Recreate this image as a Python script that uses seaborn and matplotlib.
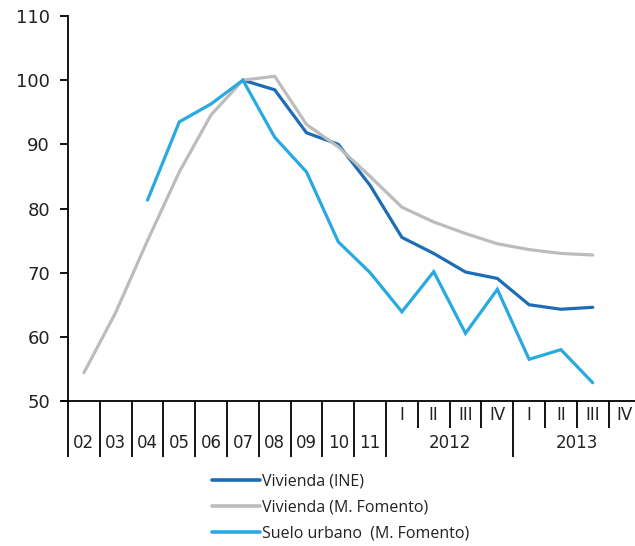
import numpy as np
import pandas as pd
import matplotlib
matplotlib.use("Agg")
import matplotlib.pyplot as plt
from matplotlib.lines import Line2D
import seaborn as sns

# ---- data ----
years = ["02", "03", "04", "05", "06", "07", "08", "09", "10", "11"]
quarters = ["I", "II", "III", "IV"]
quarter_years = ["2012", "2013"]
categories = years + [f"{q} {y}" for y in quarter_years for q in quarters]

series_names = ["Vivienda (INE)", "Vivienda (M. Fomento)", "Suelo urbano  (M. Fomento)"]

vivienda_ine = [None, None, None, None, None, 100.0, 98.5, 91.8, 90.0, 83.6,
                75.5, 73.0, 70.1, 69.1, 65.0, 64.3, 64.6, None]
vivienda_fomento = [54.4, 63.8, 75.0, 85.7, 94.6, 100.0, 100.6, 93.1, 89.6, 85.0,
                    80.2, 77.9, 76.1, 74.5, 73.6, 73.0, 72.75, None]
suelo_urbano = [None, None, 81.3, 93.5, 96.3, 100.0, 91.1, 85.7, 74.8, 70.0,
                63.9, 70.15, 60.55, 67.4, 56.5, 58.0, 52.85, None]

y_ticks = [50, 60, 70, 80, 90, 100, 110]
colors = ["#1C6DB5", "#BBBCBE", "#27AAE1"]

rows = []
for name, vals in zip(series_names, [vivienda_ine, vivienda_fomento, suelo_urbano]):
    for i, v in enumerate(vals):
        if v is not None:
            rows.append({"pos": i, "value": v, "serie": name})
df = pd.DataFrame(rows)

# ---- figure ----
sns.set_style("white")
plt.rcParams["font.family"] = ["DejaVu Sans"]
fig = plt.figure(figsize=(6.35, 5.46), dpi=100)
W, H = 635, 546
x0, x1 = 68, 68 + 18 * 31.8
y_top, y_bot = 16, 401
ax = fig.add_axes([x0 / W, (H - y_bot) / H, (x1 - x0) / W, (y_bot - y_top) / H])

sns.lineplot(data=df, x="pos", y="value", hue="serie", hue_order=series_names,
             palette=colors, estimator=None, linewidth=2.3, ax=ax, legend=False,
             zorder=3)
for ln in ax.get_lines():
    ln.set_solid_joinstyle("miter")

ax.set_xlim(-0.5, 17.5)
ax.set_ylim(50, 110)
ax.set_yticks(y_ticks)
ax.set_yticklabels([str(t) for t in y_ticks], fontsize=13, color="#222222")
ax.tick_params(axis="y", direction="out", length=6, width=1.3, color="black", pad=7, left=True)
ax.set_xticks([])
ax.set_xlabel("")
ax.set_ylabel("")
for s in ["top", "right"]:
    ax.spines[s].set_visible(False)
ax.spines["left"].set_color("black")
ax.spines["left"].set_linewidth(1.3)
ax.spines["bottom"].set_color("black")
ax.spines["bottom"].set_linewidth(1.3)

trans = ax.get_xaxis_transform()
full_y = (y_bot - 457) / (y_bot - y_top)
short_y = (y_bot - 428) / (y_bot - y_top)
ylab_y = (y_bot - 443) / (y_bot - y_top)
qlab_y = (y_bot - 415) / (y_bot - y_top)

n = len(categories)
for k in range(n + 1):
    xb = k - 0.5
    if k <= 10 or k in (14, 18):
        yend = full_y
    else:
        yend = short_y
    ax.plot([xb, xb], [0, yend], transform=trans, color="black", lw=1.3,
            clip_on=False, solid_capstyle="butt")

ax.plot([-0.5 - 6 / 31.8, -0.5], [0, 0], transform=trans, color="black", lw=1.3,
        clip_on=False)

for i, y in enumerate(years):
    ax.text(i, ylab_y, y, transform=trans, ha="center", va="center", fontsize=12,
            color="#222222")
for j, yr in enumerate(quarter_years):
    base = 10 + 4 * j
    for q_i, q in enumerate(quarters):
        ax.text(base + q_i, qlab_y, q, transform=trans, ha="center", va="center",
                fontsize=12, color="#222222")
    ax.text(base + 1.5, ylab_y, yr, transform=trans, ha="center", va="center",
            fontsize=12, color="#222222")

handles = [Line2D([0], [0], color=c, lw=2.6) for c in colors]
leg = fig.legend(handles, series_names, loc="upper left",
                 bbox_to_anchor=(212 / W, 1 - 474 / H), frameon=False,
                 fontsize=11.5, handlelength=3.0, handletextpad=0.1,
                 labelspacing=0.62, borderaxespad=0, borderpad=0)
for t in leg.get_texts():
    t.set_color("#222222")
    t.set_family("Open Sans")

fig.savefig("out.png", dpi=100)
